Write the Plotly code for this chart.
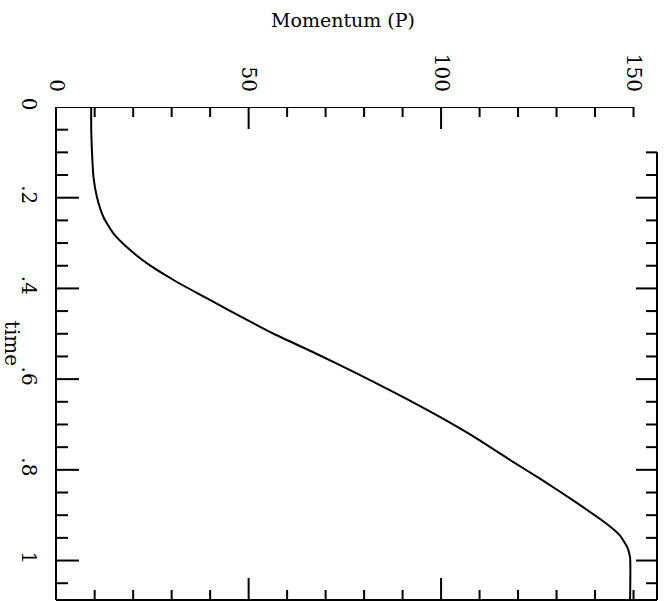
import plotly.graph_objects as go

# Momentum as a function of time (plot is drawn turned on its side:
# time runs down the page, momentum runs across)
time_vals = [0.0, 0.05, 0.10, 0.155, 0.199, 0.243, 0.279, 0.316, 0.346,
             0.382, 0.412, 0.445, 0.50, 0.544, 0.588, 0.64, 0.684, 0.731,
             0.783, 0.82, 0.868, 0.919, 0.945, 0.971, 0.993, 1.088]
momentum_vals = [9.1, 9.1, 9.3, 9.7, 10.6, 12.3, 14.9, 19.3, 23.8,
                 30.6, 37.0, 44.2, 56.5, 67.6, 78.2, 90.3, 99.8, 109.3,
                 118.8, 125.8, 134.4, 143.0, 146.5, 148.4, 149.1, 149.1]

p_ticks = [0, 50, 100, 150]
p_tick_text = ["0", "50", "100", "150"]
t_ticks = [0, 0.2, 0.4, 0.6, 0.8, 1.0]
t_tick_text = ["0", ".2", ".4", ".6", ".8", "1"]

FONT = "DejaVu Serif"
W, H = 671, 601
ML, MR, MT, MB = 56, 14, 107, 1
P_RANGE = [-0.05, 156.1]
T_RANGE = [1.087, 0.0]

plot_w = W - ML - MR
plot_h = H - MT - MB
p_per_px = (P_RANGE[1] - P_RANGE[0]) / plot_w
t_per_px = (T_RANGE[0] - T_RANGE[1]) / plot_h

fig = go.Figure()
fig.add_trace(go.Scatter(
    x=momentum_vals, y=time_vals, mode="lines",
    line=dict(color="black", width=2, shape="spline", smoothing=0.5),
    hoverinfo="skip", showlegend=False,
))

shapes = []
LW = 2


def seg(x0, y0, x1, y1, xref="x", yref="y"):
    shapes.append(dict(type="line", xref=xref, yref=yref, x0=x0, y0=y0,
                       x1=x1, y1=y1, line=dict(color="black", width=LW)))


# frame
seg(P_RANGE[0], 0, 150, 0)                      # top
seg(0, 0, 0, 1, xref="paper", yref="paper")     # left
seg(1, 0, 1, 1 - (0.1 / T_RANGE[0]), xref="paper", yref="paper")  # right
seg(0, 0, 1, 0, xref="paper", yref="paper")     # bottom

# momentum ticks (top and bottom edges, pointing inward)
major_p = [50, 100]
minor_p = [v for v in range(10, 151, 10) if v not in major_p]
for v in major_p + minor_p:
    length = (22 if v in major_p else 10) * t_per_px
    seg(v, 0, v, length)
    seg(v, T_RANGE[0], v, T_RANGE[0] - length)

# time ticks (left and right edges, pointing inward)
major_t = [0.2, 0.4, 0.6, 0.8, 1.0]
minor_t = [round(0.05 * k, 2) for k in range(1, 22)]
minor_t = [v for v in minor_t if v not in major_t]
for v in major_t + minor_t:
    is_major = v in major_t
    left_len = (23 if is_major else 12) * p_per_px
    right_len = (21 if is_major else 11) * p_per_px
    seg(P_RANGE[0], v, P_RANGE[0] + left_len, v)
    if v >= 0.1:
        seg(P_RANGE[1], v, P_RANGE[1] - right_len, v)

fig.update_layout(
    width=W, height=H,
    margin=dict(l=ML, r=MR, t=MT, b=MB),
    paper_bgcolor="white", plot_bgcolor="white",
    font=dict(family=FONT, size=20, color="black"),
    shapes=shapes,
    xaxis=dict(
        side="top", range=P_RANGE, showgrid=False, zeroline=False,
        showline=False, ticks="", tickmode="array", tickvals=p_ticks,
        ticktext=p_tick_text, tickangle=90, ticklabelstandoff=11,
        tickfont=dict(family=FONT, size=20, color="black"),
    ),
    yaxis=dict(
        range=T_RANGE, showgrid=False, zeroline=False, showline=False,
        ticks="", tickmode="array", tickvals=t_ticks, ticktext=t_tick_text,
        tickangle=90, ticklabelstandoff=13,
        tickfont=dict(family=FONT, size=20, color="black"),
    ),
    annotations=[
        dict(text="Momentum (P)", xref="paper", yref="paper",
             x=(343 - ML) / plot_w, y=1 + (MT - 20) / plot_h,
             xanchor="center", yanchor="middle", showarrow=False,
             font=dict(family=FONT, size=19, color="black")),
        dict(text="time", xref="paper", yref="y",
             x=-(ML - 12) / plot_w, y=0.52, textangle=90,
             xanchor="center", yanchor="middle", showarrow=False,
             font=dict(family=FONT, size=20, color="black")),
    ],
)

fig.write_html("out.html")
